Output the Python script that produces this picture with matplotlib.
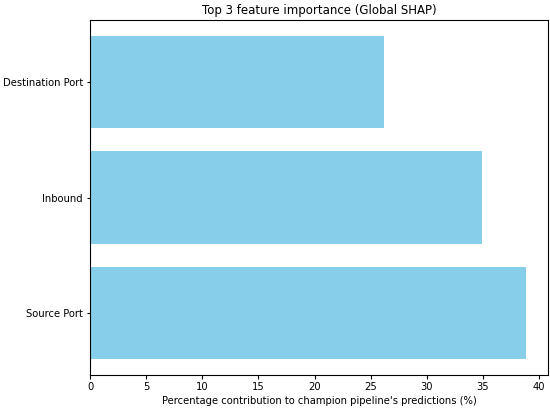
import matplotlib
matplotlib.use("Agg")
import matplotlib.pyplot as plt

features = ["Source Port", "Inbound", "Destination Port"]
importance = [38.85, 34.95, 26.2]

plt.rcParams["axes.linewidth"] = 1.1
plt.rcParams["xtick.major.width"] = 1.1
plt.rcParams["ytick.major.width"] = 1.1

fig, ax = plt.subplots(figsize=(550 / 72, 410 / 72), dpi=72)
fig.subplots_adjust(left=90 / 550, right=548 / 550, bottom=1 - 375 / 410, top=1 - 20 / 410)

ax.barh(features, importance, color="skyblue")
ax.set_xlabel("Percentage contribution to champion pipeline's predictions (%)")
ax.set_title("Top 3 feature importance (Global SHAP)", fontsize=11.8)

fig.savefig("out.png", dpi=72)
